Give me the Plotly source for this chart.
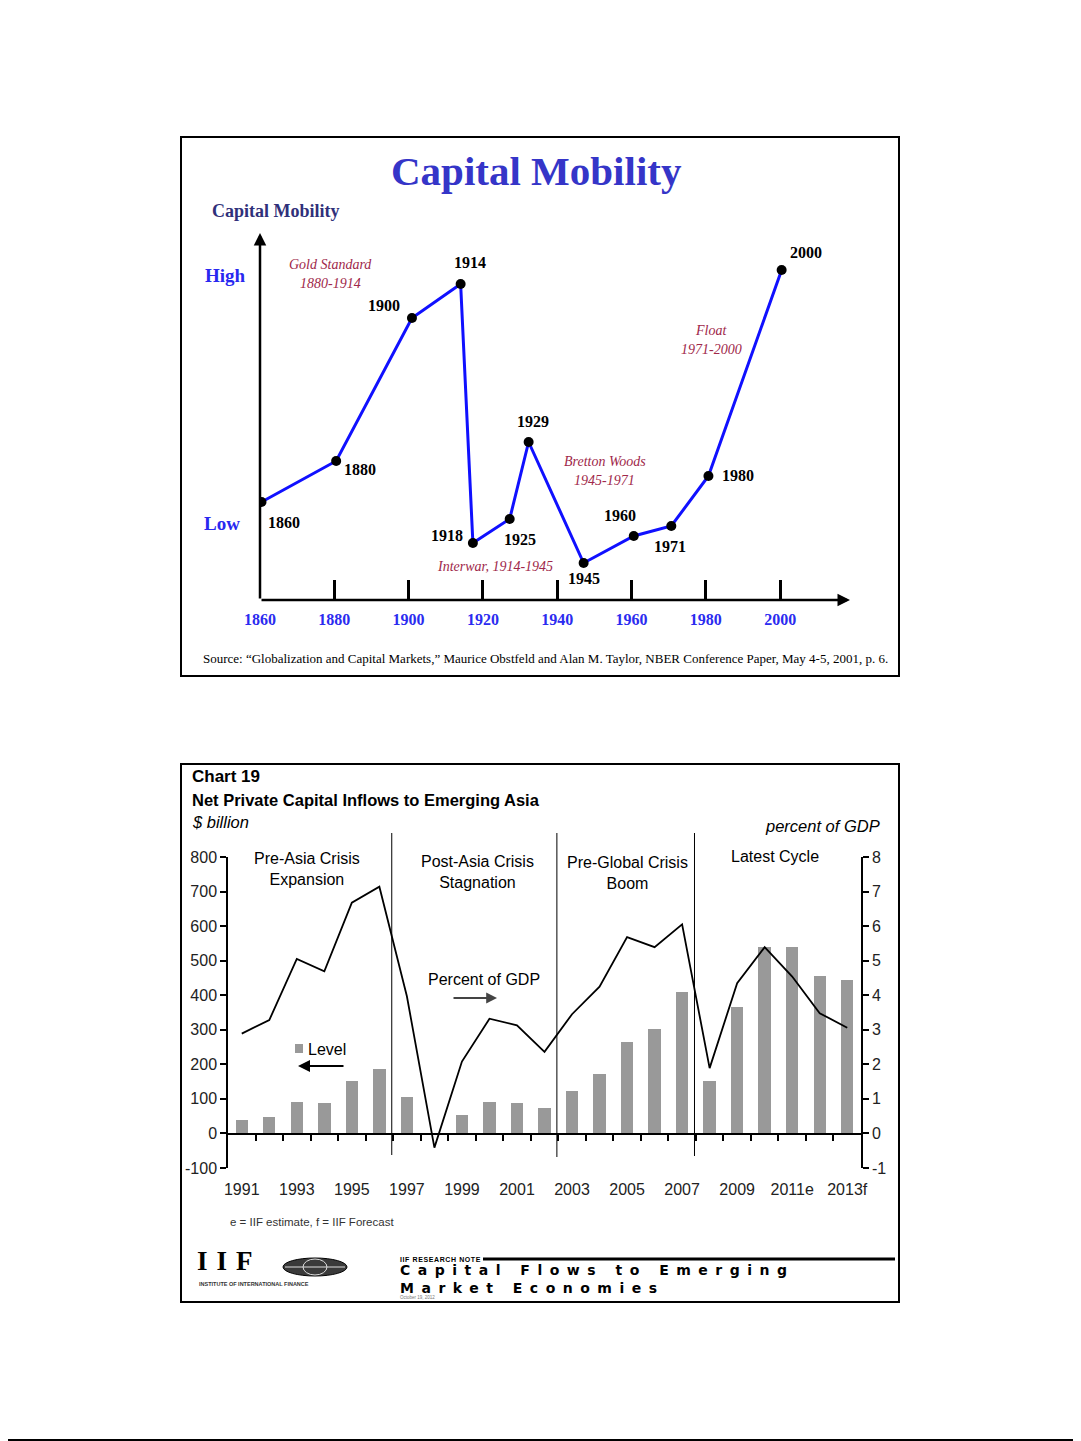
import plotly.graph_objects as go

W, H = 1081, 1441
OFF = 8  # page body margin of the browser


def X(px):
    return (px - OFF) / W


def Y(py):
    return 1 - (py - OFF) / H


# ---------------- Chart 1 data: Capital Mobility ----------------
cm_labels = ["1860", "1880", "1900", "1914", "1918", "1925", "1929", "1945", "1960", "1971", "1980", "2000"]
cm_x = [1860.4, 1880.5, 1900.9, 1914.0, 1917.3, 1927.2, 1932.3, 1947.1, 1960.6, 1970.7, 1980.7, 2000.4]
cm_y = [9.8, 13.9, 28.2, 31.6, 5.7, 8.1, 15.8, 3.7, 6.4, 7.4, 12.4, 33.0]
cm_ticks = [1860, 1880, 1900, 1920, 1940, 1960, 1980, 2000]
cm_ticktext = ["1860", "1880", "1900", "1920", "1940", "1960", "1980", "2000"]

# ---------------- Chart 2 data: Net Private Capital Inflows to Emerging Asia ----------------
years = ["1991", "1992", "1993", "1994", "1995", "1996", "1997", "1998", "1999", "2000",
         "2001", "2002", "2003", "2004", "2005", "2006", "2007", "2008", "2009", "2010",
         "2011e", "2012f", "2013f"]
level_bn = [40, 49, 90, 88, 151, 187, 105, 0, 52, 90, 88, 74, 122, 173, 265, 301, 410,
            151, 367, 539, 540, 457, 445]
pct_gdp = [2.89, 3.28, 5.05, 4.69, 6.68, 7.14, 3.97, -0.41, 2.08, 3.32, 3.13, 2.36, 3.45,
           4.25, 5.68, 5.39, 6.05, 1.89, 4.35, 5.39, 4.54, 3.48, 3.06]
year_ticks = ["1991", "1993", "1995", "1997", "1999", "2001", "2003", "2005", "2007",
              "2009", "2011e", "2013f"]
left_ticks = [-100, 0, 100, 200, 300, 400, 500, 600, 700, 800]
left_ticktext = ["-100", "0", "100", "200", "300", "400", "500", "600", "700", "800"]
right_ticks = [-1, 0, 1, 2, 3, 4, 5, 6, 7, 8]
right_ticktext = ["-1", "0", "1", "2", "3", "4", "5", "6", "7", "8"]

SERIF = "Liberation Serif, Times New Roman, serif"
NARROW = "Liberation Sans Narrow, Arial Narrow, Liberation Sans, Arial, sans-serif"

fig = go.Figure()

# Chart 1 line
fig.add_trace(go.Scatter(
    x=cm_x, y=cm_y, mode="lines+markers",
    line=dict(color="#1010ff", width=3),
    marker=dict(color="black", size=10),
    xaxis="x", yaxis="y", showlegend=False, hoverinfo="skip"))

# Chart 2 bars and line
fig.add_trace(go.Bar(
    x=years, y=level_bn, marker=dict(color="#999999", line=dict(width=0)),
    width=0.45, xaxis="x2", yaxis="y2", showlegend=False, hoverinfo="skip"))
fig.add_trace(go.Scatter(
    x=years, y=pct_gdp, mode="lines", line=dict(color="black", width=1.8),
    xaxis="x2", yaxis="y3", showlegend=False, hoverinfo="skip", cliponaxis=False))

ann = []


def txt(px, py, text, size, color="black", family=SERIF, xanchor="center", bold=False,
        italic=False, yanchor="middle", align="center"):
    t = text
    if bold:
        t = "<b>" + t + "</b>"
    if italic:
        t = "<i>" + t + "</i>"
    ann.append(dict(x=X(px), y=Y(py), xref="paper", yref="paper", text=t, showarrow=False,
                    xanchor=xanchor, yanchor=yanchor, align=align,
                    font=dict(size=size, color=color, family=family)))


# ----- Chart 1 texts -----
txt(536, 171, "Capital Mobility", 41, "#3535c8", bold=True)
txt(276, 211, "Capital Mobility", 18, "#30307a", bold=True)
txt(225, 275, "High", 19, "#2828f0", bold=True)
txt(222, 523, "Low", 19, "#2828f0", bold=True)
pt_label_pos = [(284, 522), (360, 470), (384, 305), (470, 263), (447, 536), (520, 539),
                (533, 421), (584, 578), (620, 516), (670, 546), (738, 476), (806, 253)]
for lab, (lx, ly) in zip(cm_labels, pt_label_pos):
    txt(lx, ly, lab, 16, "black", bold=True)
RED = "#a0284a"
txt(330, 264, "Gold Standard", 14, RED, italic=True)
txt(330, 283, "1880-1914", 14, RED, italic=True)
txt(605, 461, "Bretton Woods", 14, RED, italic=True)
txt(604, 480, "1945-1971", 14, RED, italic=True)
txt(495, 566, "Interwar, 1914-1945", 14, RED, italic=True)
txt(711, 330, "Float", 14, RED, italic=True)
txt(711, 349, "1971-2000", 14, RED, italic=True)
txt(545, 658, "Source: \u201cGlobalization and Capital Markets,\u201d Maurice Obstfeld and Alan M. Taylor, "
    "NBER Conference Paper, May 4-5, 2001, p. 6.", 13, "black")

# axis arrows chart 1
ann.append(dict(x=X(850), y=Y(600), xref="paper", yref="paper", text="", showarrow=True,
                ax=-590, ay=0, arrowhead=2, arrowsize=1, arrowwidth=2.5, arrowcolor="black"))
ann.append(dict(x=X(260), y=Y(233), xref="paper", yref="paper", text="", showarrow=True,
                ax=0, ay=367, arrowhead=2, arrowsize=1, arrowwidth=2.5, arrowcolor="black"))

# ----- Chart 2 texts -----
txt(190, 776, "Chart 19", 17, "black", NARROW, xanchor="left", bold=True)
txt(190, 800, "Net Private Capital Inflows to Emerging Asia", 16.5, "black", NARROW, xanchor="left", bold=True)
txt(190, 822, "$ billion", 16.5, "black", NARROW, xanchor="left", italic=True)
txt(882, 826, "percent of GDP", 16.5, "black", NARROW, xanchor="right", italic=True)
txt(307, 869, "Pre-Asia Crisis<br>Expansion", 16, "black", NARROW)
txt(477, 872, "Post-Asia Crisis<br>Stagnation", 16, "black", NARROW)
txt(627, 873, "Pre-Global Crisis<br>Boom", 16, "black", NARROW)
txt(775, 856, "Latest Cycle", 16, "black", NARROW)
txt(484, 979, "Percent of GDP", 16, "black", NARROW)
txt(306, 1049, "Level", 16, "black", NARROW, xanchor="left")
txt(228, 1222, "e = IIF estimate, f = IIF Forecast", 11.5, "#333333", NARROW, xanchor="left")

ann.append(dict(x=X(497), y=Y(998), xref="paper", yref="paper", text="", showarrow=True,
                ax=-45, ay=0, arrowhead=2, arrowsize=1.2, arrowwidth=1.8, arrowcolor="#444444"))
ann.append(dict(x=X(298), y=Y(1066), xref="paper", yref="paper", text="", showarrow=True,
                ax=47, ay=0, arrowhead=2, arrowsize=1.2, arrowwidth=2, arrowcolor="black"))

# IIF footer
txt(195, 1278, "<span style='letter-spacing:9px'>IIF</span>", 27, "black", SERIF, xanchor="left",
    bold=True, yanchor="bottom")
txt(197, 1279, "INSTITUTE OF INTERNATIONAL FINANCE", 5.5, "#333333", "Liberation Sans", xanchor="left",
    bold=True, yanchor="top")
txt(398, 1259, "<span style='letter-spacing:0.6px'>IIF RESEARCH NOTE</span>", 7, "black",
    "Liberation Sans", xanchor="left", bold=True)
txt(398, 1279, "<span style='letter-spacing:7.5px'>Capital Flows to Emerging<br>Market Economies</span>",
    14, "black", "DejaVu Sans", xanchor="left", bold=True, align="left")
txt(398, 1297, "October 19, 2012", 4.5, "#777777", "Liberation Sans", xanchor="left")

shapes = [
    # frames
    dict(type="rect", xref="paper", yref="paper", x0=X(181), x1=X(899), y0=Y(137), y1=Y(676),
         line=dict(color="black", width=2)),
    dict(type="rect", xref="paper", yref="paper", x0=X(181), x1=X(899), y0=Y(764), y1=Y(1302),
         line=dict(color="black", width=2)),
    # page bottom rule
    dict(type="line", xref="paper", yref="paper", x0=X(0), x1=X(1081), y0=Y(1440), y1=Y(1440),
         line=dict(color="black", width=2)),
    # Level legend swatch
    dict(type="rect", xref="paper", yref="paper", x0=X(295), x1=X(303), y0=Y(1053), y1=Y(1044),
         fillcolor="#999999", line=dict(width=0)),
    # research note rule
    dict(type="line", xref="paper", yref="paper", x0=X(483), x1=X(895), y0=Y(1259), y1=Y(1259),
         line=dict(color="black", width=3)),
    # globe
    dict(type="circle", xref="paper", yref="paper", x0=X(283), x1=X(347), y0=Y(1276), y1=Y(1258),
         fillcolor="#3a3a3a", line=dict(color="black", width=1)),
    dict(type="circle", xref="paper", yref="paper", x0=X(303), x1=X(327), y0=Y(1275), y1=Y(1259),
         fillcolor="rgba(0,0,0,0)", line=dict(color="#dddddd", width=1)),
    dict(type="line", xref="paper", yref="paper", x0=X(285), x1=X(345), y0=Y(1267), y1=Y(1267),
         line=dict(color="#dddddd", width=1)),
]
# period separators in chart 2
for xs, yb in [(5.45, 1155), (11.45, 1157), (16.45, 1156)]:
    shapes.append(dict(type="line", xref="x2", yref="paper", x0=xs, x1=xs, y0=Y(yb), y1=Y(833),
                       line=dict(color="black", width=1)))

AX2 = dict(showgrid=False, zeroline=False, showline=True, linecolor="black", linewidth=1.5,
           ticks="outside", ticklen=6, tickwidth=1.5, tickcolor="black", automargin=False,
           tickfont=dict(family=NARROW, size=16, color="#222222"))

fig.update_layout(
    width=W, height=H, autosize=False,
    margin=dict(l=0, r=0, t=0, b=0, pad=0, autoexpand=False),
    paper_bgcolor="white", plot_bgcolor="rgba(0,0,0,0)",
    showlegend=False, bargap=0,
    xaxis=dict(domain=[X(260), X(850)], range=[1860, 2018.8], anchor="y", automargin=False,
               showline=False, showgrid=False, zeroline=False,
               ticks="inside", ticklen=20, tickwidth=3, tickcolor="black",
               tickvals=cm_ticks, ticktext=cm_ticktext, ticklabelstandoff=8,
               tickfont=dict(family=SERIF, size=16, color="#2b2bf0", weight="bold")),
    yaxis=dict(domain=[Y(600), Y(233)], range=[0, 36.7], anchor="x", visible=False, automargin=False),
    xaxis2=dict(domain=[X(228), X(861)], anchor="y2", type="category", range=[-0.5, 22.5],
                categoryorder="array", categoryarray=years, automargin=False,
                tickvals=year_ticks, ticktext=year_ticks, ticks="", showline=False,
                showgrid=False, zeroline=False, ticklabelstandoff=10,
                tickfont=dict(family=NARROW, size=16, color="#222222")),
    yaxis2=dict(domain=[Y(1168), Y(857)], anchor="x2", range=[-100, 800],
                tickvals=left_ticks, ticktext=left_ticktext, **AX2),
    yaxis3=dict(overlaying="y2", side="right", anchor="x2", range=[-1, 8],
                tickvals=right_ticks, ticktext=right_ticktext, **AX2),
    xaxis3=dict(overlaying="x2", anchor="free", position=Y(1134), range=[-0.5, 22.5],
                side="bottom", tickvals=[i + 0.5 for i in range(22)], ticks="outside",
                ticklen=6, tickwidth=1.5, tickcolor="black", showline=True, linewidth=2,
                linecolor="black", showticklabels=False, showgrid=False, zeroline=False,
                automargin=False),
    annotations=ann,
    shapes=shapes,
)

fig.add_trace(go.Scatter(x=[0], y=[0], mode="markers", marker=dict(size=0.1, opacity=0),
                         xaxis="x3", yaxis="y2", showlegend=False, hoverinfo="skip"))

fig.write_html("out.html")
